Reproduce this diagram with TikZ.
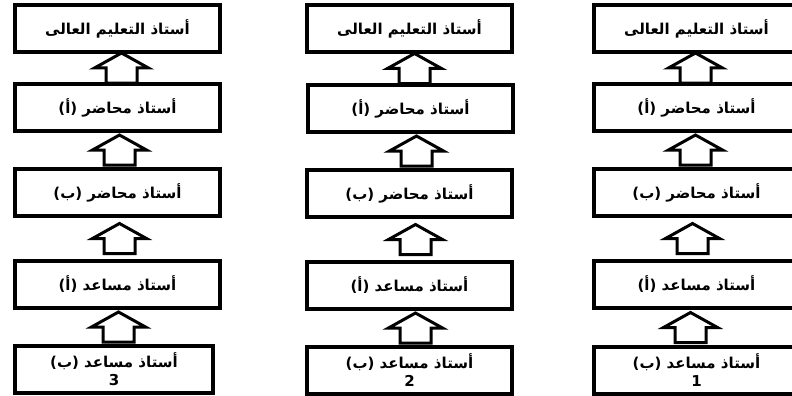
\documentclass[tikz,border=0pt]{standalone}
\usepackage{fontspec}
\TeXXeTstate=1
\newfontfamily\arabicfont[Script=Arabic]{DejaVu Sans}
\usetikzlibrary{calc}
\tikzset{
  rank/.style={draw=black, line width=3.5pt, fill=white, rectangle, anchor=north west,
    minimum width=205pt, minimum height=47pt, outer sep=0pt, inner sep=1pt,
    align=center, font=\arabicfont\bfseries\fontsize{15}{18}\selectfont},
  barrow/.style={draw=black, line width=3pt, fill=white, line join=miter}
}
\newcommand\ar[1]{\beginR #1\endR}
% #1 lower box, #2 upper box, #3 horizontal offset of the arrow
\newcommand\blockarr[3]{%
  \draw[barrow] let \p1=(#2.south), \p2=(#1.north), \n1={(\y1+\y2)/2} in
    (\x1+#3-15.5pt,\n1-15pt) -- (\x1+#3-15.5pt,\n1) -- (\x1+#3-27pt,\n1)
    -- (\x1+#3,\n1+15pt) -- (\x1+#3+27pt,\n1) -- (\x1+#3+15.5pt,\n1)
    -- (\x1+#3+15.5pt,\n1-15pt) -- cycle;}
\begin{document}
\begin{tikzpicture}[x=1pt,y=-1pt]
\useasboundingbox (0,0) rectangle (792,396);
\clip (0,0) rectangle (792,396);
% column 1
\node[rank] (a1) at (15,5) {\ar{أستاذ التعليم العالى}};
\node[rank] (a2) at (15,84) {\ar{أستاذ محاضر (أ)}};
\node[rank] (a3) at (15,169) {\ar{أستاذ محاضر (ب)}};
\node[rank] (a4) at (15,261) {\ar{أستاذ مساعد (أ)}};
\node[rank, minimum width=198pt] (a5) at (15,346) {\ar{أستاذ مساعد (ب)}\\3};
% column 2
\node[rank] (b1) at (307,5) {\ar{أستاذ التعليم العالى}};
\node[rank] (b2) at (308,85) {\ar{أستاذ محاضر (أ)}};
\node[rank] (b3) at (307,170) {\ar{أستاذ محاضر (ب)}};
\node[rank] (b4) at (307,262) {\ar{أستاذ مساعد (أ)}};
\node[rank] (b5) at (307,347) {\ar{أستاذ مساعد (ب)}\\2};
% column 3
\node[rank] (c1) at (594,5) {\ar{أستاذ التعليم العالى}};
\node[rank] (c2) at (594,84) {\ar{أستاذ محاضر (أ)}};
\node[rank] (c3) at (594,169) {\ar{أستاذ محاضر (ب)}};
\node[rank] (c4) at (594,261) {\ar{أستاذ مساعد (أ)}};
\node[rank] (c5) at (594,347) {\ar{أستاذ مساعد (ب)}\\1};
% arrows
\blockarr{a2}{a1}{4pt}
\blockarr{a3}{a2}{2pt}
\blockarr{a4}{a3}{2pt}
\blockarr{a5}{a4}{1pt}
\blockarr{b2}{b1}{5pt}
\blockarr{b3}{b2}{6pt}
\blockarr{b4}{b3}{6pt}
\blockarr{b5}{b4}{6pt}
\blockarr{c2}{c1}{-1pt}
\blockarr{c3}{c2}{-1pt}
\blockarr{c4}{c3}{-4pt}
\blockarr{c5}{c4}{-6pt}
\end{tikzpicture}
\end{document}
